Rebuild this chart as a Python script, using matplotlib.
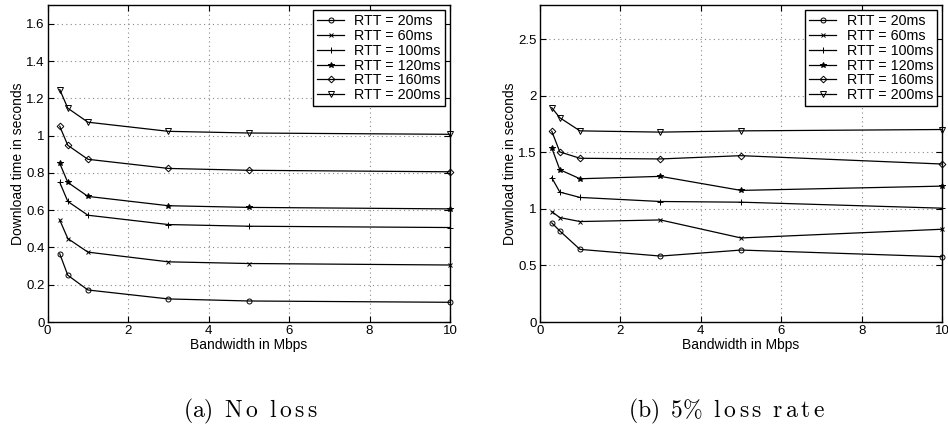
import matplotlib
matplotlib.use('Agg')
import matplotlib.pyplot as plt
from matplotlib.ticker import FormatStrFormatter, MultipleLocator

plt.rcParams['font.family'] = ['Liberation Sans', 'DejaVu Sans']
plt.rcParams['mathtext.fontset'] = 'cm'

# 資料
bandwidth = [0.3, 0.5, 1, 3, 5, 10]
rtt_labels = ['RTT = 20ms', 'RTT = 60ms', 'RTT = 100ms',
              'RTT = 120ms', 'RTT = 160ms', 'RTT = 200ms']

no_loss_20 = [0.366, 0.251, 0.172, 0.124, 0.113, 0.106]
no_loss_60 = [0.547, 0.448, 0.375, 0.323, 0.314, 0.306]
no_loss_100 = [0.749, 0.647, 0.573, 0.523, 0.514, 0.507]
no_loss_120 = [0.851, 0.749, 0.674, 0.624, 0.615, 0.607]
no_loss_160 = [1.050, 0.948, 0.873, 0.824, 0.814, 0.806]
no_loss_200 = [1.247, 1.147, 1.072, 1.023, 1.014, 1.007]

loss5_20 = [0.876, 0.805, 0.642, 0.583, 0.636, 0.577]
loss5_60 = [0.976, 0.923, 0.888, 0.902, 0.743, 0.820]
loss5_100 = [1.275, 1.148, 1.101, 1.065, 1.059, 1.006]
loss5_120 = [1.538, 1.346, 1.266, 1.287, 1.163, 1.201]
loss5_160 = [1.686, 1.503, 1.447, 1.441, 1.470, 1.396]
loss5_200 = [1.893, 1.805, 1.689, 1.678, 1.689, 1.701]

no_loss = [no_loss_20, no_loss_60, no_loss_100, no_loss_120, no_loss_160, no_loss_200]
loss5 = [loss5_20, loss5_60, loss5_100, loss5_120, loss5_160, loss5_200]

markers = [('o', 'none', 3.6), ('x', 'k', 3.0), ('+', 'k', 4.0),
           ('*', 'k', 4.0), ('D', 'none', 3.4), ('v', 'none', 4.2)]

fig = plt.figure(figsize=(9.48, 4.26), dpi=100)
ax1 = fig.add_axes([0.0503, 0.244, 0.4244, 0.744])
ax2 = fig.add_axes([0.5693, 0.244, 0.4247, 0.744])


def draw(ax, series, ymax, ystep):
    for vals, lab, (m, fc, ms) in zip(series, rtt_labels, markers):
        ax.plot(bandwidth, vals, color='k', linewidth=0.9, marker=m,
                markersize=ms, markerfacecolor=fc, markeredgecolor='k',
                markeredgewidth=0.7, label=lab, clip_on=False)
    ax.set_xlim(0, 10)
    ax.set_ylim(0, ymax)
    ax.xaxis.set_major_locator(MultipleLocator(2))
    ax.yaxis.set_major_locator(MultipleLocator(ystep))
    ax.xaxis.set_major_formatter(FormatStrFormatter('%g'))
    ax.yaxis.set_major_formatter(FormatStrFormatter('%g'))
    ax.tick_params(direction='in', labelsize=9.5, length=4, width=0.8,
                   top=True, right=True, pad=2)
    ax.grid(True, linestyle=(0, (1, 3)), color='#888888', linewidth=0.8)
    for s in ax.spines.values():
        s.set_linewidth(1.0)
    ax.set_xlabel('Bandwidth in Mbps', fontsize=10, labelpad=1)
    ax.set_ylabel('Download time in seconds', fontsize=10, labelpad=1)
    leg = ax.legend(loc='upper right', fontsize=10.3, frameon=True, fancybox=False,
                    handlelength=1.9, handletextpad=0.7, labelspacing=0.05,
                    borderpad=0.3, borderaxespad=0.35, framealpha=1)
    leg.get_frame().set_edgecolor('k')
    leg.get_frame().set_linewidth(1.0)


draw(ax1, no_loss, 1.7, 0.2)
draw(ax2, loss5, 2.8, 0.5)

fig.text(0.264, 0.033, r'$\mathrm{(a)\;\;N\,o\;\;l\,o\,s\,s}$', fontsize=17, ha='center', va='center')
fig.text(0.766, 0.033, r'$\mathrm{(b)\;\;5\%\;\;l\,o\,s\,s\;\;r\,a\,t\,e}$', fontsize=17, ha='center', va='center')

fig.savefig('out.png', dpi=100)
